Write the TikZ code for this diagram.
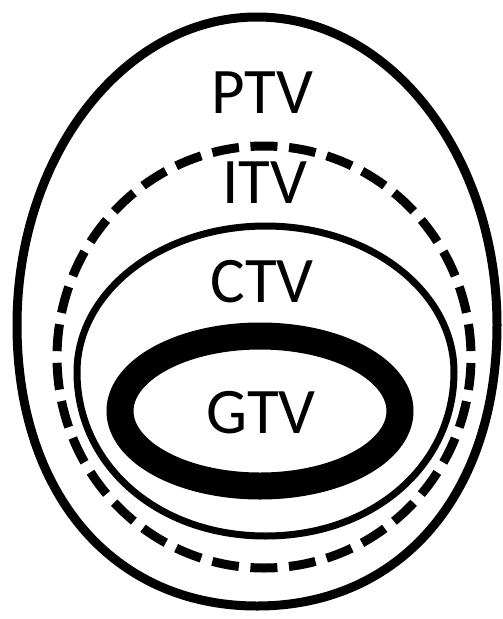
\documentclass[tikz,border=0pt]{standalone}
\usepackage{fontspec}
\setmainfont{Carlito}

% egg outline: centre x, centre y, half width, upper half height, lower half height, bottom fullness
\newcommand{\eggpath}[6]{%
  (#1+#3,#2) .. controls +(0,-0.552*#4) and +(0.552*#3,0) .. (#1,#2-#4)
  .. controls +(-0.552*#3,0) and +(0,-0.552*#4) .. (#1-#3,#2)
  .. controls +(0,#6*#5) and +(-#6*#3,0) .. (#1,#2+#5)
  .. controls +(#6*#3,0) and +(0,#6*#5) .. (#1+#3,#2) -- cycle}

\begin{document}
\begin{tikzpicture}[
  x=1pt, y=-1pt,
  every node/.style={font=\fontsize{65}{78}\selectfont, inner sep=0pt, anchor=base},
  vol/.style={draw, line width=9pt},
  itvline/.style={draw, line width=9pt, dash pattern=on 27pt off 11.62pt, dash phase=32.7pt},
]
\useasboundingbox (0,0) rectangle (503,619);

%% volumes, outer to inner
\draw[vol] \eggpath{257}{325}{240}{308}{281}{0.6};
\draw[itvline] (264,357) ellipse [x radius=207pt, y radius=211pt];
\draw[vol, line width=7pt] \eggpath{265.5}{372}{188.5}{146}{164}{0.57};
\draw[vol, line width=27pt] (260,411) ellipse [x radius=140pt, y radius=75pt];

%% labels
\node (ptv) at (262,113) {PTV};
\node (itv) at (265,203) {ITV};
\node (ctv) at (262,302) {CTV};
\node (gtv) at (261,433) {GTV};

\end{tikzpicture}
\end{document}
